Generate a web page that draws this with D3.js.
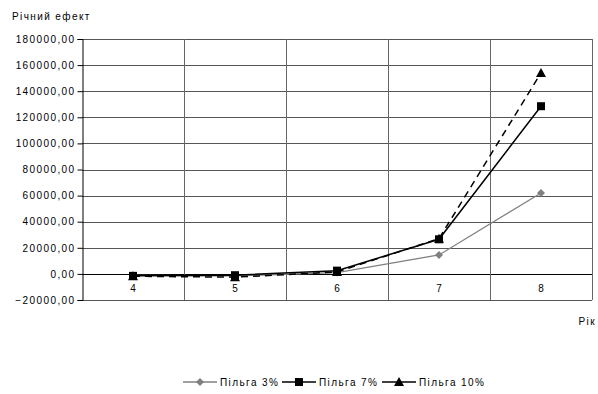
<!DOCTYPE html>
<html>
<head>
<meta charset="utf-8">
<script src="https://cdn.jsdelivr.net/npm/d3@7"></script>
<style>
  body { margin: 0; background: #fff; }
  svg { display: block; font-family: "Liberation Sans", Arial, sans-serif; }
  svg text { letter-spacing: 1.4px; }
</style>
</head>
<body>
<svg id="chart" width="598" height="394"></svg>
<script>
// Years on the horizontal axis
const years = ["4", "5", "6", "7", "8"];
// Annual effect for each tax relief rate
const relief3 = [-1200, -1500, 1000, 14500, 62000];
const relief7 = [-1500, -1000, 2500, 26500, 128500];
const relief10 = [-1800, -2500, 1500, 27000, 154000];
// Y axis ticks
const yTicks = [-20000, 0, 20000, 40000, 60000, 80000, 100000, 120000, 140000, 160000, 180000];

const seriesNames = ["Пільга 3%", "Пільга 7%", "Пільга 10%"];

const series = [
  { name: seriesNames[0], values: relief3, color: "#808080", dash: null, marker: "diamond", width: 1.3 },
  { name: seriesNames[1], values: relief7, color: "#000", dash: null, marker: "square", width: 1.5 },
  { name: seriesNames[2], values: relief10, color: "#000", dash: "7,5", marker: "triangle", width: 1.5 }
];

const svg = d3.select("#chart");
const plotL = 82, plotR = 592, plotT = 39, plotB = 300;

const x = d3.scaleBand().domain(years).range([plotL, plotR]);
const y = d3.scaleLinear().domain([-20000, 180000]).range([plotB, plotT]);

const fmt = v => d3.format(".2f")(v).replace(".", ",");

// Horizontal gridlines
svg.append("g").selectAll("line").data(yTicks).join("line")
  .attr("x1", plotL).attr("x2", plotR)
  .attr("y1", d => Math.round(y(d)) + 0.5).attr("y2", d => Math.round(y(d)) + 0.5)
  .attr("stroke", d => d === 0 ? "#000" : "#555").attr("stroke-width", 1);

// Vertical gridlines at category boundaries
const bounds = years.map(d => x(d)).concat([plotR]);
svg.append("g").selectAll("line").data(bounds.slice(1)).join("line")
  .attr("x1", d => Math.round(d) + 0.5).attr("x2", d => Math.round(d) + 0.5)
  .attr("y1", plotT).attr("y2", plotB)
  .attr("stroke", "#666").attr("stroke-width", 1);

// Y axis
const yAxis = d3.axisLeft(y).tickValues(yTicks).tickFormat(fmt).tickSize(5).tickPadding(2);
const gy = svg.append("g").attr("transform", `translate(${plotL + 0.5},0)`).call(yAxis);
gy.select(".domain").attr("stroke", "#000");
gy.selectAll(".tick line").attr("stroke", "#000");
gy.selectAll("text").attr("font-size", 10).attr("fill", "#000")
  .attr("font-family", "Liberation Sans, Arial, sans-serif");

// Category labels just below the zero line
svg.append("g").selectAll("text").data(years).join("text")
  .attr("x", d => x(d) + x.bandwidth() / 2 + 0.7)
  .attr("y", y(0) + 18)
  .attr("text-anchor", "middle").attr("font-size", 10).text(d => d);

// Axis titles
svg.append("text").attr("x", 12).attr("y", 20).attr("font-size", 10).text("Річний ефект");
svg.append("text").attr("x", 596).attr("y", 325).attr("text-anchor", "end").attr("font-size", 10).text("Рік");

const cx = d => x(d) + x.bandwidth() / 2;
const line = d3.line().x((d, i) => cx(years[i])).y(d => y(d));

function marker(g, type, color, px, py) {
  if (type === "diamond") {
    g.append("path").attr("d", `M${px},${py - 4}L${px + 4},${py}L${px},${py + 4}L${px - 4},${py}Z`).attr("fill", color);
  } else if (type === "square") {
    g.append("rect").attr("x", px - 4).attr("y", py - 4).attr("width", 8).attr("height", 8).attr("fill", color);
  } else {
    g.append("path").attr("d", `M${px},${py - 5}L${px + 5},${py + 4}L${px - 5},${py + 4}Z`).attr("fill", color);
  }
}

// Draw order: 3%, 10%, 7% so squares sit on top
[series[0], series[2], series[1]].forEach(s => {
  const g = svg.append("g");
  g.append("path").datum(s.values).attr("d", line)
    .attr("fill", "none").attr("stroke", s.color).attr("stroke-width", s.width)
    .attr("stroke-dasharray", s.dash);
  s.values.forEach((v, i) => marker(g, s.marker, s.color, cx(years[i]), y(v)));
});

// Legend
const legendItems = [
  { s: series[0], x: 183 },
  { s: series[1], x: 282 },
  { s: series[2], x: 382 }
];
const ly = 382;
legendItems.forEach(it => {
  const g = svg.append("g");
  g.append("line").attr("x1", it.x).attr("x2", it.x + 34).attr("y1", ly).attr("y2", ly)
    .attr("stroke", it.s.color).attr("stroke-width", it.s.width);
  marker(g, it.s.marker, it.s.color, it.x + 17, ly);
  g.append("text").attr("x", it.x + 37).attr("y", ly + 4).attr("font-size", 10).text(it.s.name);
});
</script>
</body>
</html>
